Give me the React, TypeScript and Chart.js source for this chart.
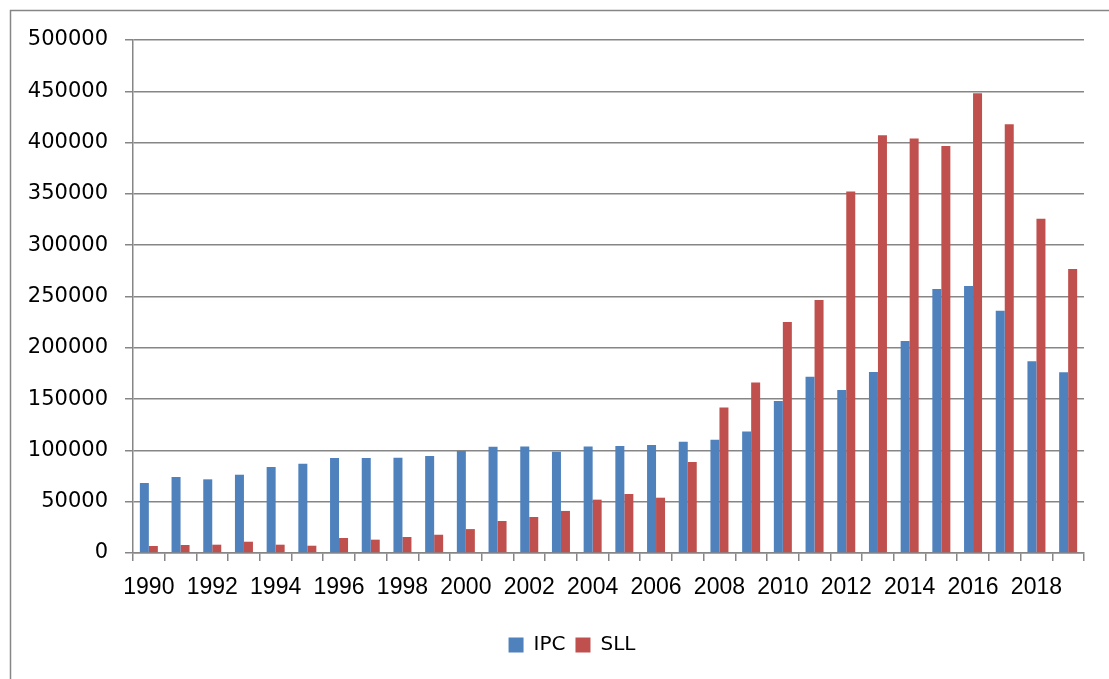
import React, { useEffect, useRef } from "react";
import { Chart, registerables } from "chart.js";

Chart.register(...registerables);

const years = [
  "1990", "1991", "1992", "1993", "1994", "1995", "1996", "1997", "1998", "1999",
  "2000", "2001", "2002", "2003", "2004", "2005", "2006", "2007", "2008", "2009",
  "2010", "2011", "2012", "2013", "2014", "2015", "2016", "2017", "2018", "2019",
];

const ipcValues = [
  68200, 74100, 71800, 76300, 83900, 87100, 92600, 92600, 92900, 94600,
  99500, 103600, 103900, 98800, 103900, 104300, 105300, 108500, 110500, 118300,
  148200, 171900, 158900, 176500, 206700, 257400, 260300, 236000, 186800, 176100,
];

const sllValues = [
  6800, 7800, 8100, 11000, 8100, 7100, 14600, 13000, 15600, 17800,
  23300, 31200, 35100, 41000, 52000, 57500, 53900, 88700, 141700, 166300,
  225200, 246700, 352300, 407200, 404000, 396800, 448100, 417900, 325700, 276900,
];

const seriesNames = ["IPC", "SLL"];
const yMin = 0;
const yMax = 500000;
const yStep = 50000;

const GRID = "#868686";
const FONT = "DejaVu Sans";
const XFONT = "Liberation Sans";

const borderPlugin = {
  id: "outerBorder",
  beforeDraw(chart: any) {
    const ctx = chart.ctx;
    ctx.save();
    ctx.fillStyle = "#ffffff";
    ctx.fillRect(0, 0, chart.width, chart.height);
    ctx.strokeStyle = GRID;
    ctx.lineWidth = 1.5;
    ctx.strokeRect(10.5, 10.5, chart.width + 50, chart.height + 50);
    ctx.restore();
  },
};

const legendShiftPlugin = {
  id: "legendShift",
  afterLayout(chart: any) {
    const lg = chart.legend;
    if (lg) {
      lg.left = 60;
    }
  },
};

export default function App() {
  const ref = useRef<HTMLCanvasElement | null>(null);

  useEffect(() => {
    document.body.style.margin = "0";
    const canvas = ref.current;
    if (!canvas) return;
    const chart = new Chart(canvas, {
      type: "bar",
      data: {
        labels: years,
        datasets: [
          {
            label: seriesNames[0],
            data: ipcValues,
            backgroundColor: "#4F81BD",
            borderWidth: 0,
            categoryPercentage: 0.568,
            barPercentage: 1,
          },
          {
            label: seriesNames[1],
            data: sllValues,
            backgroundColor: "#C0504D",
            borderWidth: 0,
            categoryPercentage: 0.568,
            barPercentage: 1,
          },
        ],
      },
      options: {
        responsive: false,
        animation: false,
        layout: { padding: { top: 40, right: 25, left: 0, bottom: 14 } },
        plugins: {
          tooltip: { enabled: false },
          legend: {
            position: "bottom",
            labels: {
              boxWidth: 15,
              boxHeight: 15,
              padding: 10,
              color: "#000",
              font: { family: FONT, size: 20 },
            },
          },
        },
        scales: {
          x: {
            grid: {
              drawOnChartArea: false,
              drawTicks: true,
              tickLength: 8,
              color: GRID,
              lineWidth: 1.5,
            },
            border: { color: GRID, width: 1.5 },
            ticks: {
              autoSkip: false,
              maxRotation: 0,
              minRotation: 0,
              padding: 13,
              color: "#000",
              font: { family: XFONT, size: 23 },
              callback: (_v: any, i: number) => (i % 2 === 0 ? years[i] : ""),
            },
            afterFit: (scale: any) => {
              scale.height = 72;
            },
          },
          y: {
            min: yMin,
            max: yMax,
            grid: { color: GRID, lineWidth: 1.5, tickLength: 8 },
            border: { color: GRID, width: 1.5 },
            ticks: {
              stepSize: yStep,
              padding: 17,
              color: "#000",
              font: { family: FONT, size: 21 },
              callback: (v: any) => String(v),
            },
            afterFit: (scale: any) => {
              scale.width = 133;
            },
          },
        },
      },
      plugins: [borderPlugin, legendShiftPlugin],
    });
    return () => chart.destroy();
  }, []);

  return (
    <div style={{ width: 1109, height: 679 }}>
      <canvas ref={ref} width={1109} height={679} style={{ display: "block" }} />
    </div>
  );
}
